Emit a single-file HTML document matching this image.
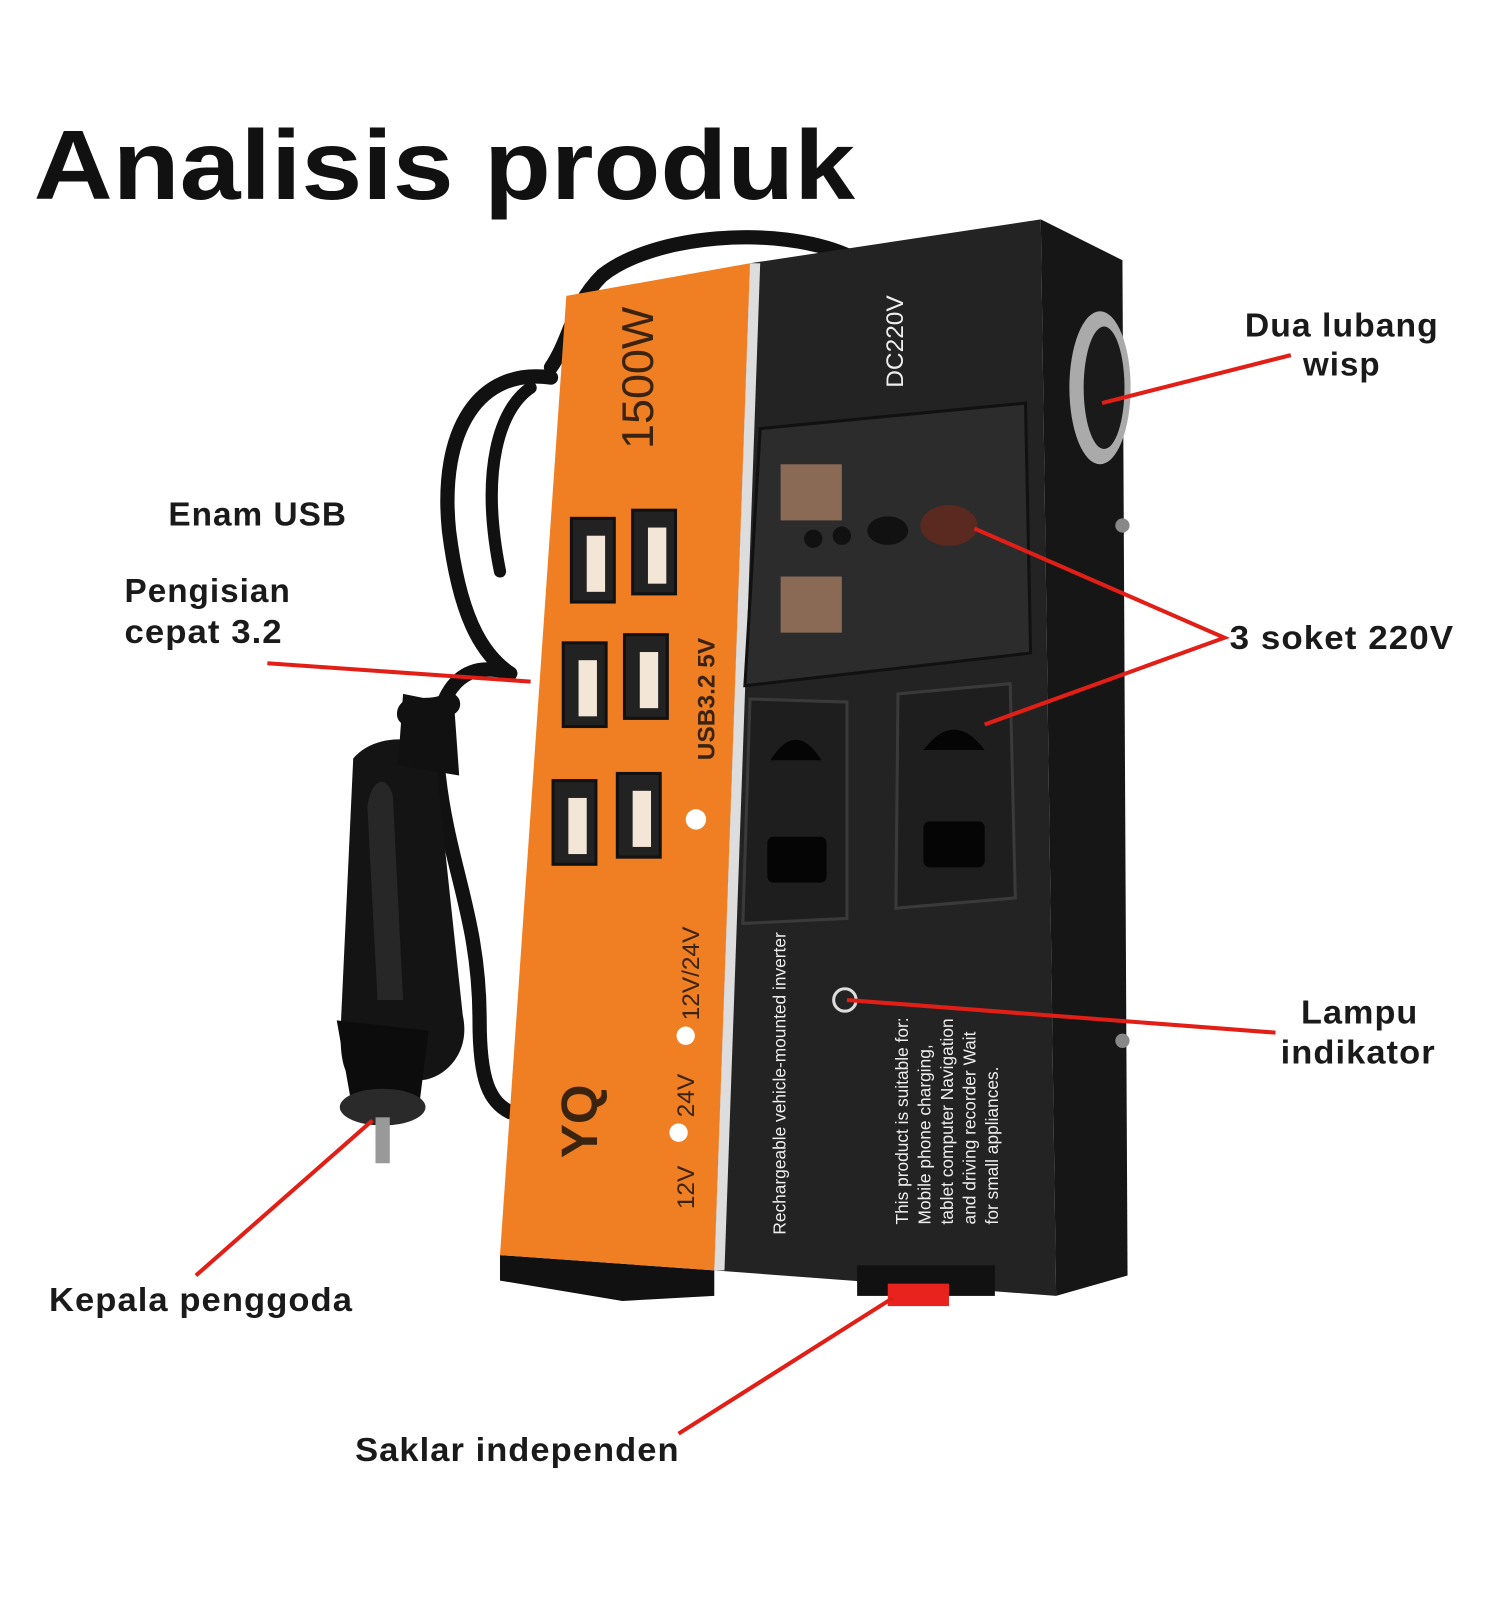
<!DOCTYPE html>
<html><head><meta charset="utf-8"><style>
html,body{margin:0;padding:0;background:#fff;}
svg{display:block}
.l{font-family:"Liberation Sans",sans-serif;font-weight:bold;font-size:33px;letter-spacing:1px;fill:#1a1a1a}
.o{font-family:"Liberation Sans",sans-serif;fill:#3a2410}
.w{font-family:"Liberation Sans",sans-serif;fill:#eee}
</style></head><body>
<svg width="1500" height="1600" viewBox="0 0 1500 1600" xmlns="http://www.w3.org/2000/svg">
<rect width="1500" height="1600" fill="#fff"/>
<g transform="scale(1.0204)">
<text x="33" y="195" font-family="Liberation Sans,sans-serif" font-weight="bold" font-size="96" fill="#111" textLength="805" lengthAdjust="spacingAndGlyphs">Analisis produk</text>

<!-- cable -->
<g fill="none" stroke="#111" stroke-linecap="round">
<path d="M830 250 C760 220 640 230 590 270 C560 300 560 330 540 360" stroke-width="14"/>
<path d="M540 370 C470 360 430 420 440 520 C450 600 470 640 500 660" stroke-width="14"/>
<path d="M520 380 C490 400 470 460 490 560" stroke-width="12"/>
<path d="M500 660 C440 640 420 700 430 760 C440 850 470 900 470 1000 C470 1060 480 1080 500 1090" stroke-width="14"/>
<path d="M440 690 C420 700 400 690 400 700" stroke-width="22"/>
</g>
<!-- plug -->
<g>
<path d="M360 740 C380 720 420 720 440 740 L445 1000 C450 1040 420 1060 400 1060 L350 1060 C325 1060 320 1040 325 1000 Z" fill="#141414" transform="rotate(-5 390 900)"/>
<path d="M395 680 L445 690 L450 760 L390 750 Z" fill="#111"/>
<path d="M330 1000 L420 1010 L410 1090 L345 1085 Z" fill="#0c0c0c"/>
<ellipse cx="375" cy="1085" rx="42" ry="18" fill="#2a2a2a"/>
<rect x="368" y="1095" width="14" height="45" fill="#999"/>
<path d="M360 790 C365 760 380 760 385 780 L395 980 L370 980 Z" fill="#333" opacity=".6"/>
</g>

<polygon points="490,1230 700,1245 700,1270 610,1275 490,1255" fill="#111"/>
<polygon points="1020,215 1100,255 1105,1250 1035,1270" fill="#161616"/>
<polygon points="735,258 1020,215 1035,1270 700,1245" fill="#232323"/>
<polygon points="555,290 735,258 700,1245 490,1230" fill="#f07e22"/>
<polygon points="735,258 745,258 710,1245 700,1245" fill="#ddd"/>

<text class="o" font-size="44" transform="translate(640,440) rotate(-90)">1500W</text>
<text class="o" font-size="24" font-weight="bold" transform="translate(700,745) rotate(-90)">USB3.2  5V</text>
<text class="o" font-size="24" transform="translate(685,1000) rotate(-90)">12V/24V</text>
<text class="o" font-size="24" transform="translate(680,1095) rotate(-90)">24V</text>
<text class="o" font-size="24" transform="translate(680,1185) rotate(-90)">12V</text>
<text class="o" font-size="50" font-weight="bold" transform="translate(585,1135) rotate(-90)">YQ</text>
<circle cx="682" cy="803" r="10" fill="#fff"/>
<circle cx="672" cy="1015" r="9" fill="#fff"/>
<circle cx="665" cy="1110" r="9" fill="#fff"/>
<g fill="#222" stroke="#111" stroke-width="3">
<rect x="560" y="508" width="42" height="82"/><rect x="620" y="500" width="42" height="82"/>
<rect x="552" y="630" width="42" height="82"/><rect x="612" y="622" width="42" height="82"/>
<rect x="542" y="765" width="42" height="82"/><rect x="605" y="758" width="42" height="82"/>
</g>
<g fill="#f3e6d6">
<rect x="575" y="525" width="18" height="55"/><rect x="635" y="517" width="18" height="55"/>
<rect x="567" y="647" width="18" height="55"/><rect x="627" y="639" width="18" height="55"/>
<rect x="557" y="782" width="18" height="55"/><rect x="620" y="775" width="18" height="55"/>
</g>

<text class="w" font-size="24" transform="translate(885,380) rotate(-90)">DC220V</text>
<polygon points="745,420 1005,395 1010,640 730,672" fill="#2c2c2c" stroke="#111" stroke-width="3"/>
<rect x="765" y="455" width="60" height="55" fill="#8a6a55"/>
<rect x="765" y="565" width="60" height="55" fill="#8a6a55"/>
<circle cx="797" cy="528" r="9" fill="#111"/><circle cx="825" cy="525" r="9" fill="#111"/>
<ellipse cx="870" cy="520" rx="20" ry="14" fill="#111"/>
<ellipse cx="930" cy="515" rx="28" ry="20" fill="#5a2a20"/>
<polygon points="735,685 830,688 830,900 728,905" fill="#1e1e1e" stroke="#3a3a3a" stroke-width="3"/>
<polygon points="880,680 990,670 995,880 878,890" fill="#1e1e1e" stroke="#3a3a3a" stroke-width="3"/>
<path d="M755 745 Q780 705 805 745 Z" fill="#050505"/><rect x="752" y="820" width="58" height="45" rx="6" fill="#050505"/>
<path d="M905 735 Q935 695 965 735 Z" fill="#050505"/><rect x="905" y="805" width="60" height="45" rx="6" fill="#050505"/>
<circle cx="828" cy="980" r="11" fill="none" stroke="#ddd" stroke-width="3"/>
<text class="w" font-size="17" transform="translate(770,1210) rotate(-90)">Rechargeable vehicle-mounted inverter</text>
<g class="w" font-size="17">
<text transform="translate(890,1200) rotate(-90)">This product is suitable for:</text>
<text transform="translate(912,1200) rotate(-90)">Mobile phone charging,</text>
<text transform="translate(934,1200) rotate(-90)">tablet computer Navigation</text>
<text transform="translate(956,1200) rotate(-90)">and driving recorder Wait</text>
<text transform="translate(978,1200) rotate(-90)">for small appliances.</text>
</g>
<ellipse cx="1078" cy="380" rx="30" ry="75" fill="#aaa"/>
<ellipse cx="1082" cy="380" rx="20" ry="60" fill="#1a1a1a"/>
<circle cx="1100" cy="515" r="7" fill="#888"/><circle cx="1100" cy="1020" r="7" fill="#888"/>
<rect x="840" y="1240" width="135" height="30" fill="#111"/>
<rect x="870" y="1258" width="60" height="22" fill="#e8221c"/>

<g stroke="#e21f17" stroke-width="4" fill="none">
<line x1="1265" y1="348" x2="1080" y2="395"/>
<line x1="262" y1="650" x2="520" y2="668"/>
<polyline points="955,518 1200,625 965,710"/>
<line x1="1250" y1="1012" x2="830" y2="980"/>
<line x1="192" y1="1250" x2="365" y2="1098"/>
<line x1="665" y1="1405" x2="875" y2="1272"/>
</g>

<text class="l" x="1220" y="330" textLength="190" lengthAdjust="spacingAndGlyphs">Dua lubang</text>
<text class="l" x="1277" y="368" textLength="76" lengthAdjust="spacingAndGlyphs">wisp</text>
<text class="l" x="165" y="515" textLength="175" lengthAdjust="spacingAndGlyphs">Enam USB</text>
<text class="l" x="122" y="590" textLength="163" lengthAdjust="spacingAndGlyphs">Pengisian</text>
<text class="l" x="122" y="630" textLength="155" lengthAdjust="spacingAndGlyphs">cepat 3.2</text>
<text class="l" x="1205" y="636" textLength="220" lengthAdjust="spacingAndGlyphs">3 soket 220V</text>
<text class="l" x="1275" y="1003" textLength="115" lengthAdjust="spacingAndGlyphs">Lampu</text>
<text class="l" x="1255" y="1042" textLength="152" lengthAdjust="spacingAndGlyphs">indikator</text>
<text class="l" x="48" y="1285" textLength="298" lengthAdjust="spacingAndGlyphs">Kepala penggoda</text>
<text class="l" x="348" y="1432" textLength="318" lengthAdjust="spacingAndGlyphs">Saklar independen</text>
</g>
</svg>
</body></html>
